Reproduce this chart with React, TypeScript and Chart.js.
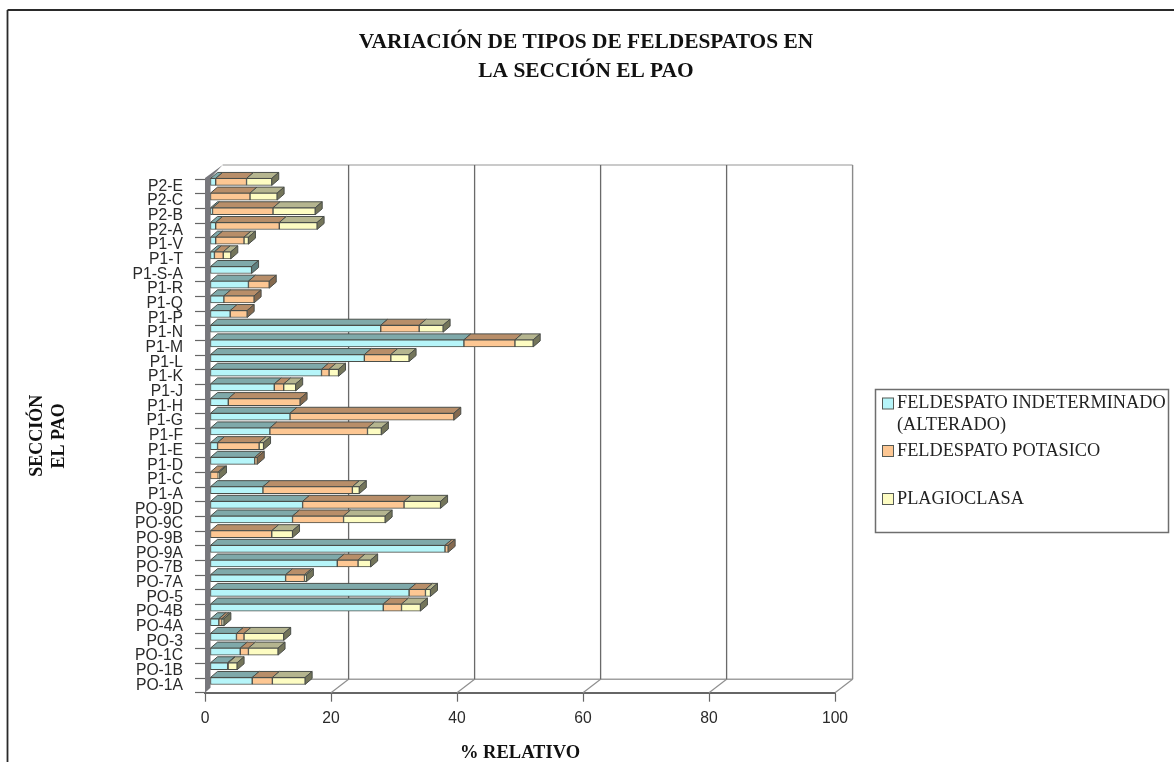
import React, { useEffect, useRef } from "react";
import { Chart, registerables } from "chart.js";

Chart.register(...registerables);

const categories = [
  "P2-E", "P2-C", "P2-B", "P2-A", "P1-V", "P1-T", "P1-S-A", "P1-R", "P1-Q", "P1-P",
  "P1-N", "P1-M", "P1-L", "P1-K", "P1-J", "P1-H", "P1-G", "P1-F", "P1-E", "P1-D",
  "P1-C", "P1-A", "PO-9D", "PO-9C", "PO-9B", "PO-9A", "PO-7B", "PO-7A", "PO-5", "PO-4B",
  "PO-4A", "PO-3", "PO-1C", "PO-1B", "PO-1A",
];

const indeterminado = [
  0.9, 0, 0.4, 0.9, 0.9, 0.7, 6.6, 6.1, 2.2, 3.2,
  27.1, 40.3, 24.5, 17.7, 10.2, 2.9, 12.7, 9.5, 1.2, 7.1,
  0, 8.4, 14.7, 13.1, 0, 37.3, 20.2, 12, 31.6, 27.5,
  1.4, 4.2, 4.8, 2.8, 6.7,
];

const potasico = [
  4.9, 6.35, 9.6, 10.1, 4.5, 1.4, 0, 3.3, 4.8, 2.7,
  6.1, 8.1, 4.2, 1.2, 1.5, 11.4, 26, 15.5, 6.6, 0.4,
  1.3, 14.2, 16.1, 8.1, 9.8, 0.5, 3.3, 3, 2.6, 2.9,
  0.5, 1.2, 1.3, 0.1, 3.2,
];

const plagioclasa = [
  4, 4.3, 6.7, 6, 0.7, 1.2, 0, 0, 0, 0,
  3.8, 2.9, 2.9, 1.5, 1.9, 0, 0, 2.2, 0.7, 0,
  0.2, 1.1, 5.8, 6.6, 3.3, 0, 2, 0.3, 0.8, 3,
  0.3, 6.3, 4.7, 1.4, 5.2,
];

const seriesLabels = ["FELDESPATO INDETERMINADO (ALTERADO)", "FELDESPATO POTASICO", "PLAGIOCLASA"];
const legendLines = [["FELDESPATO INDETERMINADO", "(ALTERADO)"], ["FELDESPATO POTASICO"], ["PLAGIOCLASA"]];
const titleLines = ["VARIACIÓN DE TIPOS DE FELDESPATOS EN", "LA SECCIÓN EL PAO"];

const frontColors = ["#b6f5f9", "#fdc793", "#fdfcc2"];
const topColors = ["#7fa9aa", "#b88e69", "#b5b58f"];
const sideColors = ["#5f8080", "#85694e", "#74755a"];
const edgeColor = "#4a4e49";

const SERIF = '"Liberation Serif", serif';
const SANS = '"Liberation Sans", sans-serif';

// Oblique projection of the chart: the back wall and the bars' depth.
const WALL_DX = 17.6;
const WALL_DY = 13.5;
const BAR_DX = 5;
const BAR_DY = 4.4;
const FACE_DX = 7;
const FACE_DY = 6;

function poly(ctx: CanvasRenderingContext2D, pts: number[][], fill?: string, stroke?: string, lw = 1) {
  ctx.beginPath();
  pts.forEach(([x, y], i) => (i ? ctx.lineTo(x, y) : ctx.moveTo(x, y)));
  ctx.closePath();
  if (fill) {
    ctx.fillStyle = fill;
    ctx.fill();
  }
  if (stroke) {
    ctx.strokeStyle = stroke;
    ctx.lineWidth = lw;
    ctx.stroke();
  }
}

function line(ctx: CanvasRenderingContext2D, x1: number, y1: number, x2: number, y2: number, color: string, lw: number) {
  ctx.beginPath();
  ctx.moveTo(x1, y1);
  ctx.lineTo(x2, y2);
  ctx.strokeStyle = color;
  ctx.lineWidth = lw;
  ctx.stroke();
}

const projection = {
  id: "projection",
  beforeDraw(chart: any) {
    const { ctx, width, height } = chart;
    ctx.save();
    ctx.fillStyle = "#ffffff";
    ctx.fillRect(0, 0, width, height);
    // page frame
    line(ctx, 7.5, 10, width, 10, "#2a2a2a", 1.8);
    line(ctx, 7.5, 10, 7.5, height, "#2a2a2a", 1.8);
    // title
    ctx.fillStyle = "#111111";
    ctx.font = `bold 21.4px ${SERIF}`;
    ctx.textAlign = "center";
    ctx.textBaseline = "middle";
    titleLines.forEach((t, i) => ctx.fillText(t, 586, 42 + i * 29.5));
    ctx.restore();
  },
  beforeDatasetsDraw(chart: any) {
    const { ctx, scales } = chart;
    const xs = scales.x;
    const ys = scales.y;
    const left = xs.getPixelForValue(0);
    const right = xs.getPixelForValue(100);
    const top = ys.top;
    const bottom = ys.bottom;
    const backTop = top - WALL_DY - 0.5;

    ctx.save();
    // back wall and floor
    line(ctx, left + WALL_DX, backTop, right + WALL_DX, backTop, "#b8b8b8", 1.4);
    line(ctx, left + WALL_DX, bottom - WALL_DY, right + WALL_DX, bottom - WALL_DY, "#a0a0a0", 1.4);
    line(ctx, right + WALL_DX, backTop, right + WALL_DX, bottom - WALL_DY, "#8a8a8a", 1.4);
    xs.ticks.forEach((t: any) => {
      const x = xs.getPixelForValue(t.value);
      if (t.value !== 0) line(ctx, x, bottom, x + WALL_DX, bottom - WALL_DY, "#8f8f8f", 1.2);
      if (t.value !== 0 && t.value !== 100) {
        line(ctx, x + WALL_DX, backTop, x + WALL_DX, bottom - WALL_DY, "#6a6a6a", 1.3);
      }
    });
    // shaded side wall
    poly(ctx, [
      [left, bottom],
      [left + 5.5, bottom - 5],
      [left + 5.5, top - 1],
      [left + WALL_DX, backTop],
      [left, top - 1],
    ], "#77777c");

    // bars sit part way into the depth of the chart
    ctx.translate(BAR_DX, -BAR_DY);
    const metas = chart.getSortedVisibleDatasetMetas();
    categories.forEach((_, idx) => {
      let last = -1;
      metas.forEach((m: any, s: number) => {
        if ((chart.data.datasets[s].data[idx] as number) > 0) last = s;
      });
      metas.forEach((m: any, s: number) => {
        const value = chart.data.datasets[s].data[idx] as number;
        if (!(value > 0)) return;
        const bar = m.data[idx];
        const p = bar.getProps(["x", "y", "base", "height"]);
        const yTop = p.y - p.height / 2;
        const yBot = p.y + p.height / 2;
        poly(ctx, [
          [p.base, yTop],
          [p.base + FACE_DX, yTop - FACE_DY],
          [p.x + FACE_DX, yTop - FACE_DY],
          [p.x, yTop],
        ], topColors[s], edgeColor, 1);
        if (s === last) {
          poly(ctx, [
            [p.x, yTop],
            [p.x + FACE_DX, yTop - FACE_DY],
            [p.x + FACE_DX, yBot - FACE_DY],
            [p.x, yBot],
          ], sideColors[s], edgeColor, 1);
        }
      });
    });
  },
  afterDatasetsDraw(chart: any) {
    chart.ctx.restore();
  },
  afterDraw(chart: any) {
    const { ctx } = chart;
    ctx.save();
    // legend panel with wrapped entries
    ctx.strokeStyle = "#6e6e6e";
    ctx.lineWidth = 1.5;
    ctx.strokeRect(875.5, 389.5, 293, 143);
    const rows = [403.5, 451, 499];
    ctx.font = `18.3px ${SERIF}`;
    ctx.textAlign = "left";
    ctx.textBaseline = "middle";
    legendLines.forEach((lines, s) => {
      ctx.fillStyle = frontColors[s];
      ctx.fillRect(882.5, rows[s] - 5.5, 11, 11);
      ctx.strokeStyle = "#555a55";
      ctx.lineWidth = 1;
      ctx.strokeRect(882.5, rows[s] - 5.5, 11, 11);
      ctx.fillStyle = "#222222";
      lines.forEach((t, i) => ctx.fillText(t, 897, rows[s] + i * 21.5));
    });
    ctx.restore();
  },
};

export default function App() {
  const ref = useRef<HTMLCanvasElement | null>(null);

  useEffect(() => {
    if (!ref.current) return;
    const series = [indeterminado, potasico, plagioclasa];
    const chart = new Chart(ref.current, {
      type: "bar",
      plugins: [projection],
      data: {
        labels: categories,
        datasets: series.map((data, s) => ({
          label: seriesLabels[s],
          data,
          backgroundColor: frontColors[s],
          borderColor: edgeColor,
          borderWidth: 1,
          borderSkipped: false,
          barThickness: 7,
          clip: false,
        })),
      },
      options: {
        indexAxis: "y",
        responsive: false,
        animation: false,
        devicePixelRatio: 1,
        layout: { padding: { top: 179, right: 339, left: 0, bottom: 0 } },
        plugins: {
          legend: { display: false },
          title: { display: false },
          tooltip: { enabled: false },
        },
        scales: {
          x: {
            stacked: true,
            min: 0,
            max: 100,
            ticks: {
              stepSize: 20,
              padding: 8,
              color: "#2a2a2a",
              maxRotation: 0,
              font: { family: SANS, size: 15.7 },
            },
            grid: { drawOnChartArea: false, tickLength: 9, tickColor: "#666666", tickWidth: 1.2 },
            border: { color: "#666666", width: 2 },
            title: {
              display: true,
              text: "% RELATIVO",
              color: "#111111",
              font: { family: SERIF, size: 18.5, weight: "bold" },
              padding: { top: 0, bottom: -2 },
            },
            afterFit: (scale: any) => {
              scale.height = 69.3;
            },
          },
          y: {
            stacked: true,
            ticks: {
              autoSkip: false,
              padding: 12,
              color: "#2a2a2a",
              font: { family: SANS, size: 15.7 },
            },
            grid: { offset: true, drawOnChartArea: false, tickLength: 10, tickColor: "#666666", tickWidth: 1.2 },
            border: { display: false },
            title: {
              display: true,
              text: ["SECCIÓN", "EL PAO"],
              color: "#111111",
              font: { family: SERIF, size: 18, weight: "bold", lineHeight: 22 / 18 },
              padding: { top: 26, bottom: 0 },
            },
            afterFit: (scale: any) => {
              scale.width = 205;
            },
          },
        },
      },
    } as any);
    return () => chart.destroy();
  }, []);

  return (
    <div style={{ position: "fixed", left: 0, top: 0, width: 1174, height: 762, overflow: "hidden", background: "#fff" }}>
      <canvas ref={ref} width={1174} height={762} style={{ display: "block" }} />
    </div>
  );
}
